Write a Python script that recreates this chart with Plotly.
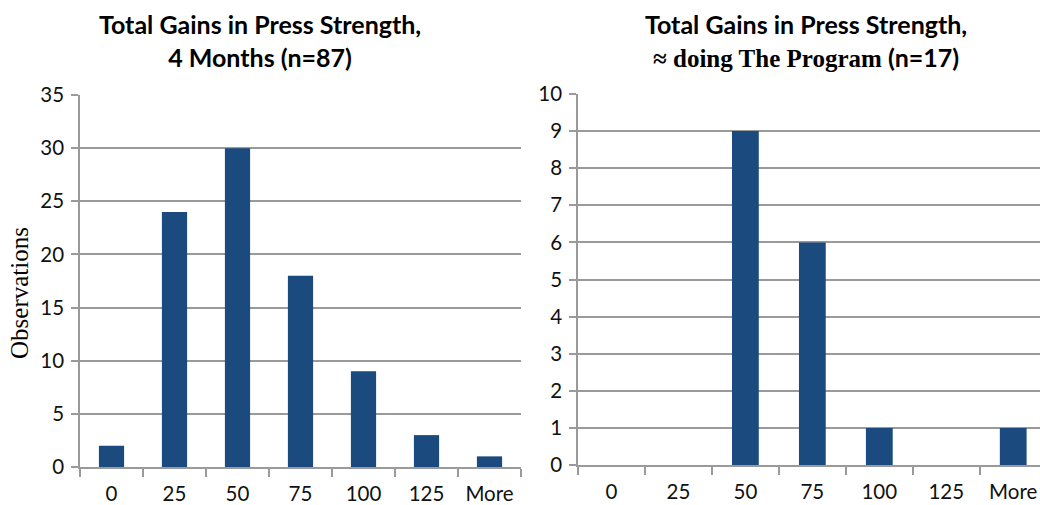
import plotly.graph_objects as go

categories = ["0", "25", "50", "75", "100", "125", "More"]
left_counts = [2, 24, 30, 18, 9, 3, 1]
right_counts = [0, 0, 9, 6, 1, 0, 1]

left_title = "Total Gains in Press Strength,<br>4 Months (n=87)"
right_title = ("Total Gains in Press Strength,<br>"
               "<span style='font-family:Liberation Serif'>\u2248 doing The Program</span> (n=17)")
y_title = "Observations"

W, H = 1040, 505
BAR = "#1a4a7e"
GRID = "#9a9a9a"
SANS = "Lato, Carlito, Calibri, sans-serif"
SERIF = "Liberation Serif, Times New Roman, serif"

def px_x(x):
    return x / W

def px_y(y):
    return 1 - y / H

fig = go.Figure()
fig.add_trace(go.Bar(x=categories, y=left_counts, marker=dict(color=BAR, line=dict(width=0)),
                     xaxis="x", yaxis="y", showlegend=False))
fig.add_trace(go.Bar(x=categories, y=right_counts, marker=dict(color=BAR, line=dict(width=0)),
                     xaxis="x2", yaxis="y2", showlegend=False))

axis_common = dict(showline=True, linecolor=GRID, linewidth=1.5,
                   tickfont=dict(family=SANS, size=20.5, color="#111"))

fig.update_layout(
    width=W, height=H,
    margin=dict(l=0, r=0, t=0, b=0, autoexpand=False),
    paper_bgcolor="white", plot_bgcolor="white",
    bargap=0.6,
    xaxis=dict(domain=[px_x(80), px_x(521)], type="category", range=[-0.5, 6.5],
               ticks="outside", tickson="boundaries", ticklen=8, tickcolor=GRID, tickwidth=1.5,
               showgrid=False, anchor="y", ticklabelstandoff=8, automargin=False, **axis_common),
    yaxis=dict(domain=[px_y(467), px_y(95)], range=[0, 35], dtick=5,
               ticks="outside", ticklen=7, tickcolor=GRID, tickwidth=1.5,
               showgrid=True, gridcolor=GRID, gridwidth=1.5, zeroline=False,
               anchor="x", ticklabelstandoff=3, automargin=False, **axis_common),
    xaxis2=dict(domain=[px_x(578), 1.0], type="category", range=[-0.5, 6.4],
                ticks="outside", tickson="boundaries", ticklen=8, tickcolor=GRID, tickwidth=1.5,
                showgrid=False, anchor="y2", ticklabelstandoff=8, automargin=False, **axis_common),
    yaxis2=dict(domain=[px_y(465), px_y(94)], range=[0, 10], dtick=1,
                ticks="outside", ticklen=7, tickcolor=GRID, tickwidth=1.5,
                showgrid=True, gridcolor=GRID, gridwidth=1.5, zeroline=False,
                anchor="x2", ticklabelstandoff=3, automargin=False, **axis_common),
    annotations=[
        dict(text=left_title, x=px_x(260), y=px_y(41), xref="paper", yref="paper",
             xanchor="center", yanchor="middle", showarrow=False, align="center",
             font=dict(family=SANS, size=25, color="#000", weight="bold")),
        dict(text=right_title, x=px_x(806), y=px_y(41), xref="paper", yref="paper",
             xanchor="center", yanchor="middle", showarrow=False, align="center",
             font=dict(family=SANS, size=25, color="#000", weight="bold")),
        dict(text=y_title, x=px_x(19), y=px_y(293), xref="paper", yref="paper",
             xanchor="center", yanchor="middle", showarrow=False, textangle=-90,
             font=dict(family=SERIF, size=25, color="#000")),
    ],
)

fig.write_html("out.html")
